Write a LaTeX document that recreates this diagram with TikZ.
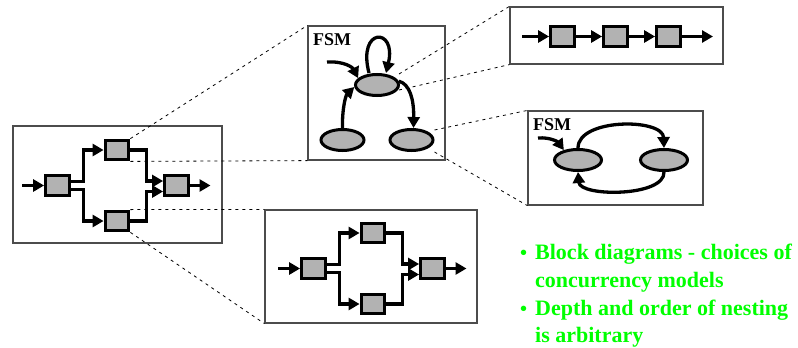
\documentclass[tikz,border=0pt]{standalone}
\usepackage{fontspec}
\setmainfont{Liberation Serif}
\usetikzlibrary{arrows.meta,shapes.geometric}
\definecolor{hgreen}{RGB}{0,255,0}
\definecolor{blockgray}{RGB}{178,178,178}
\tikzset{
  frame/.style={draw=black!70, line width=1.2pt, inner sep=0pt},
  blk/.style={draw, line width=3.3pt, fill=blockgray, minimum width=23.5pt, minimum height=19.5pt, inner sep=0pt},
  st/.style={ellipse, draw, line width=3pt, fill=blockgray, minimum width=43pt, minimum height=21pt, inner sep=0pt},
  conn/.style={line width=3.3pt, -{Triangle[length=11pt,width=12pt]}},
  zoomline/.style={dash pattern=on 3pt off 4pt, line width=0.8pt},
  lbl/.style={font=\bfseries\fontsize{18}{18}\selectfont, inner sep=0pt},
  txt/.style={text=hgreen, font=\bfseries\fontsize{22}{22}\selectfont, inner sep=0pt, anchor=base west},
  blockdiag/.pic={
    \node[blk] (a) at (0,0) {};
    \node[blk] (b) at (59.5,-35.5) {};
    \node[blk] (c) at (59.5,35.5) {};
    \node[blk] (d) at (119,0) {};
    \coordinate (in) at (-35.5,0);
    \coordinate (out) at (153,0);
    \draw[conn] (in) -- (a);
    \draw[conn] ([yshift=4pt]a.east) -- ++(12.5,0) |- (b.west);
    \draw[conn] ([yshift=-4pt]a.east) -- ++(12.5,0) |- (c.west);
    \draw[conn] (b.east) -- ++(16,0) |- ([yshift=4.5pt]d.west);
    \draw[conn] (c.east) -- ++(16,0) |- ([yshift=-6pt]d.west);
    \draw[conn] (d) -- (out);
  }
}
\begin{document}
\begin{tikzpicture}[x=1pt,y=-1pt]
\path[use as bounding box, fill=white] (0,0) rectangle (798,348);

% frames
\node[frame, minimum width=209pt, minimum height=117pt] (Lbox) at (117.5,184.5) {};
\node[frame, minimum width=212pt, minimum height=113pt] (Bbox) at (371,266.5) {};
\node[frame, minimum width=137pt, minimum height=134pt] (Fbox) at (376.5,93) {};
\node[frame, minimum width=213pt, minimum height=57pt] (Rbox) at (616.5,35.5) {};
\node[frame, minimum width=175pt, minimum height=94pt] (Gbox) at (615.5,158) {};

% block diagrams
\pic (L) at (57.5,185.5) {blockdiag};
\pic (B) at (313.5,268.5) {blockdiag};

% chain
\node[blk] (r1) at (562.5,36.5) {};
\node[blk] (r2) at (615.5,36.5) {};
\node[blk] (r3) at (668.5,36.5) {};
\coordinate (rin) at (522,36.5);
\coordinate (rout) at (713,36.5);
\draw[conn] (rin) -- (r1);
\draw[conn] (r1) -- (r2);
\draw[conn] (r2) -- (r3);
\draw[conn] (r3) -- (rout);

% FSM 1
\node[lbl] (fsmA) at (332,40) {FSM};
\node[st] (e1) at (377,85) {};
\node[st] (e2) at (342.5,140) {};
\node[st] (e3) at (411.5,140) {};
\coordinate (fin1) at (327,62);
\draw[conn] (fin1) .. controls (345,61) and (353,68) .. (e1.160);
\draw[conn] ([xshift=-8pt]e1.north) .. controls (357,27) and (397,27) .. ([xshift=9pt]e1.north);
\draw[conn] (e2.north) .. controls (342,108) and (346,95) .. (e1.185);
\draw[conn] (e1.10) .. controls (410,84) and (414,100) .. ([xshift=2pt]e3.north);

% FSM 2
\node[lbl] (fsmB) at (552,125) {FSM};
\node[st, minimum width=47pt] (f1) at (578,160) {};
\node[st, minimum width=47pt] (f2) at (664,160) {};
\coordinate (fin2) at (538,138);
\draw[conn] (fin2) .. controls (550,137) and (558,142) .. (f1.145);
\draw[conn] (f1.north) .. controls (578,118) and (663,118) .. (f2.north);
\draw[conn] (f2.south) .. controls (665,197) and (580,197) .. (f1.south);

% zoom lines
\draw[zoomline] (Lb.north east) -- (Fbox.north west);
\draw[zoomline] (Lb.south east) -- (Fbox.south west);
\draw[zoomline] (Lc.north east) -- (Bbox.north west);
\draw[zoomline] (Lc.south east) -- (Bbox.south west);
\draw[zoomline] ([shift={(22pt,11pt)}]e1.center) -- (Rbox.north west);
\draw[zoomline] ([shift={(22pt,-5pt)}]e1.center) -- (Rbox.south west);
\draw[zoomline] ([shift={(23pt,10pt)}]e3.center) -- (Gbox.north west);
\draw[zoomline] ([shift={(23pt,-12pt)}]e3.center) -- (Gbox.south west);

% text
\node[txt, font=\bfseries\fontsize{20}{20}\selectfont] (bu1) at (520,259) {•};
\node[txt] (t1) at (535,259) {Block diagrams - choices of};
\node[txt] (t2) at (535,287) {concurrency models};
\node[txt, font=\bfseries\fontsize{20}{20}\selectfont] (bu2) at (520,315) {•};
\node[txt] (t3) at (535,315) {Depth and order of nesting};
\node[txt] (t4) at (535,342) {is arbitrary};
\end{tikzpicture}
\end{document}
